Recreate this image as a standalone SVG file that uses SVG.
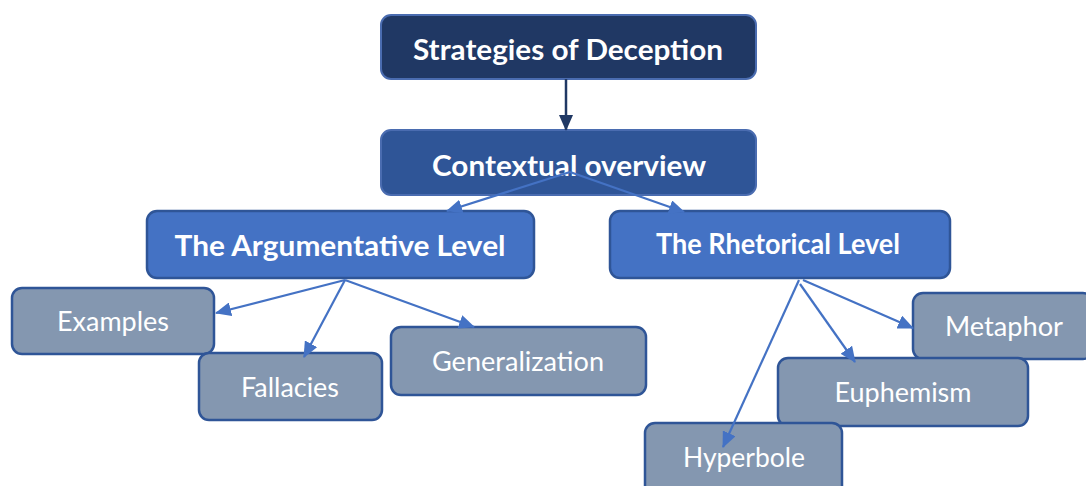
<svg xmlns="http://www.w3.org/2000/svg" width="1086" height="486" viewBox="0 0 1086 486">
<style>
.top{fill:#203864;stroke:#4a6cb0;stroke-width:2}
.ctx{fill:#2f5597;stroke:#4a6cb0;stroke-width:2}
.lvl{fill:#4472c4;stroke:#2f5597;stroke-width:2.5}
.leaf{fill:#8497b0;stroke:#2f5597;stroke-width:2.5}
.bt{font-family:Lato,"Open Sans",sans-serif;font-weight:bold;fill:#fff;text-anchor:middle;font-size:29px}
.rt{font-family:Lato,"Open Sans",sans-serif;fill:#fff;text-anchor:middle;font-size:27px}
.con{stroke:#4472c4;stroke-width:2.2;fill:none;marker-end:url(#ah)}
</style>
<defs>
<marker id="ah" markerUnits="userSpaceOnUse" markerWidth="16" markerHeight="14" viewBox="0 0 16 14" refX="15" refY="7" orient="auto"><path d="M0,0 L16,7 L0,14 z" fill="#4472c4"/></marker>
<marker id="ahd" markerUnits="userSpaceOnUse" markerWidth="16" markerHeight="14" viewBox="0 0 16 14" refX="15" refY="7" orient="auto"><path d="M0,0 L16,7 L0,14 z" fill="#203864"/></marker>
</defs>
<g id="n-top"><rect class="top" x="381" y="15" width="375" height="64" rx="10"/><text class="bt" x="568" y="60" textLength="310" lengthAdjust="spacingAndGlyphs">Strategies of Deception</text></g>
<g id="n-ctx"><rect class="ctx" x="381" y="130" width="375" height="65" rx="10"/><text class="bt" x="569" y="176" textLength="274" lengthAdjust="spacingAndGlyphs">Contextual overview</text></g>
<g id="n-arg"><rect class="lvl" x="147" y="211" width="387" height="67" rx="10"/><text class="bt" x="340" y="256" textLength="331" lengthAdjust="spacingAndGlyphs">The Argumentative Level</text></g>
<g id="n-rhet"><rect class="lvl" x="610" y="211" width="340" height="67" rx="10"/><text class="bt" x="778" y="254" textLength="244" lengthAdjust="spacingAndGlyphs">The Rhetorical Level</text></g>
<g id="n-examples"><rect class="leaf" x="12" y="288" width="202" height="66" rx="10"/><text class="rt" x="113" y="331" textLength="112" lengthAdjust="spacingAndGlyphs">Examples</text></g>
<g id="n-fallacies"><rect class="leaf" x="199" y="353" width="183" height="67" rx="10"/><text class="rt" x="290" y="397" textLength="98" lengthAdjust="spacingAndGlyphs">Fallacies</text></g>
<g id="n-general"><rect class="leaf" x="391" y="327" width="255" height="68" rx="10"/><text class="rt" x="518" y="371" textLength="172" lengthAdjust="spacingAndGlyphs">Generalization</text></g>
<g id="n-metaphor"><rect class="leaf" x="913" y="293" width="180" height="66" rx="10"/><text class="rt" x="1004" y="336" textLength="118" lengthAdjust="spacingAndGlyphs">Metaphor</text></g>
<g id="n-euph"><rect class="leaf" x="778" y="358" width="250" height="68" rx="10"/><text class="rt" x="903" y="402" textLength="137" lengthAdjust="spacingAndGlyphs">Euphemism</text></g>
<g id="n-hyper"><rect class="leaf" x="645" y="423" width="197" height="75" rx="10"/><text class="rt" x="744" y="467" textLength="122" lengthAdjust="spacingAndGlyphs">Hyperbole</text></g>
<g id="connectors">
<line x1="566" y1="79" x2="566" y2="130" stroke="#203864" stroke-width="2.5" marker-end="url(#ahd)"/>
<line class="con" x1="570" y1="172" x2="447" y2="211"/>
<line class="con" x1="570" y1="172" x2="684" y2="212"/>
<line class="con" x1="345" y1="280" x2="216" y2="313"/>
<line class="con" x1="345" y1="280" x2="304" y2="357"/>
<line class="con" x1="345" y1="280" x2="474" y2="327"/>
<line class="con" x1="799" y1="280" x2="723" y2="447"/>
<line class="con" x1="800" y1="284" x2="855" y2="362"/>
<line class="con" x1="803" y1="280" x2="913" y2="328"/>
</g>
</svg>
